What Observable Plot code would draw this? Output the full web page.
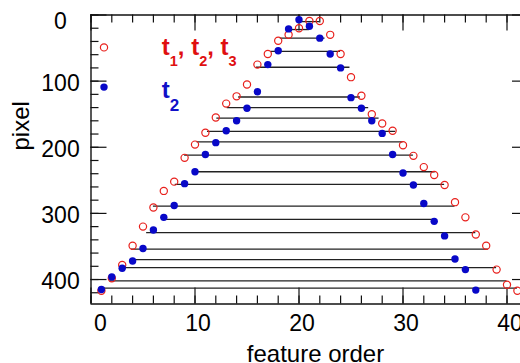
<!DOCTYPE html>
<html><head><meta charset="utf-8">
<script src="https://cdn.jsdelivr.net/npm/d3@7"></script>
<script src="https://cdn.jsdelivr.net/npm/@observablehq/plot@0.6"></script>
<style>html,body{margin:0;padding:0;background:#fff;overflow:hidden} svg{display:block}</style>
</head><body><div id="chart"></div>
<script>
// t1, t2, t3 (red open circles)
const redOrder = [1,2,3,4,5,6,7,8,9,10,11,12,13,14,15,16,17,18,19,20,21,22,23,24,25,26,27,28,29,30,31,32,33,34,35,36,37,38,39,40,41];
const redPixel = [417,398,378,349,320,291,266,252,216,196,178,155,134,123,105,75,59,39,30,20,9,9,30,59,94,122,150,164,175,197,213,230,242,257,283,306,332,349,385,408,417];
// t2 (blue filled dots)
const blueOrder = [1,2,3,4,5,6,7,8,9,10,11,12,13,14,15,16,17,18,19,20,21,22,23,24,25,26,27,28,29,30,31,32,33,34,35,36,37];
const bluePixel = [415,396,383,372,353,325,306,288,255,237,211,193,175,160,141,116,75,54,21,7,17,35,59,80,125,141,160,179,211,239,257,285,312,334,369,385,416];
// horizontal connecting segments
const linePixel = [10,22,35,55,79,124,140,156,176,192,212,237,256,289,309,329,354,370,382,402,413];
const lineFrom  = [20.3,19,18.2,17.3,15.9,14.2,13.1,12.1,11.2,10.2,9,10,8.1,6,7,5.35,3.9,4,3,1.8,1];
const lineTo    = [22,21,22.5,24,24.9,25.9,26.7,27.7,29.3,30,31,33.1,34,35,33,37,38.2,35.2,39,40,41];
// ticks
const xMajor = [0,10,20,30,40];
const xMinor = [0,2,4,6,8,10,12,14,16,18,20,22,24,26,28,30,32,34,36,38,40];
const yMajor = [0,100,200,300,400];
const yMinor = [0,20,40,60,80,100,120,140,160,180,200,220,240,260,280,300,320,340,360,380,400,420];
// legend
const legendLabels = ["t1, t2, t3", "t2"];
const legendKinds = ["all", "t2"];

const red = "#e8201c", blue = "#0808c8", redText = "#e01010", blueText = "#1010c8";
const W = 520, H = 363, mL = 90.5, mR = 0, mT = 14.5, mB = 59.5;
const plotW = W - mL - mR, plotH = H - mT - mB;

const reds = redOrder.map((x, i) => ({x, y: redPixel[i]}));
const blues = blueOrder.map((x, i) => ({x, y: bluePixel[i]}));
const segs = linePixel.map((y, i) => ({y, x1: lineFrom[i], x2: lineTo[i]}));
const legend = legendLabels.map((t, i) => ({t, kind: legendKinds[i], mx: 1.25, my: i === 0 ? 49 : 109, tx: 6.8, ty: i === 0 ? 61.2 : 125.2}));

const font = "'Liberation Sans', Arial, Helvetica, sans-serif";
const plot = Plot.plot({
  width: W, height: H, marginLeft: mL, marginRight: mR, marginTop: mT, marginBottom: mB,
  x: {domain: [0, plotW / 10.4], axis: null},
  y: {domain: [0, 437], reverse: true, axis: null},
  style: {fontFamily: font, fontSize: "23px", background: "#fff", color: "#000", overflow: "visible"},
  marks: [
    // frame: left, top, bottom
    Plot.ruleX([0], {x: d => d, stroke: "#111", strokeWidth: 1.4}),
    Plot.ruleY([0, 437], {y: d => d, stroke: "#111", strokeWidth: 1.4}),
    // inward ticks
    Plot.tickX(xMinor, {x: d => d, insetTop: plotH - 8, stroke: "#111", strokeWidth: 1.2}),
    Plot.tickX(xMajor, {x: d => d, insetTop: plotH - 16, stroke: "#111", strokeWidth: 1.2}),
    Plot.tickX(xMinor, {x: d => d, insetBottom: plotH - 8, stroke: "#111", strokeWidth: 1.2}),
    Plot.tickX(xMajor, {x: d => d, insetBottom: plotH - 16, stroke: "#111", strokeWidth: 1.2}),
    Plot.tickY(yMinor, {y: d => d, insetRight: plotW - 8, stroke: "#111", strokeWidth: 1.2}),
    Plot.tickY(yMajor, {y: d => d, insetRight: plotW - 16, stroke: "#111", strokeWidth: 1.2}),
    Plot.tickY(yMajor, {y: d => d, insetLeft: plotW - 8, stroke: "#111", strokeWidth: 1.2}),
    // tick labels
    Plot.text(xMajor.filter(d => d !== 0), {x: d => d, text: d => String(d), frameAnchor: "bottom", lineAnchor: "top", dy: 11, dx: 3, fontSize: 23, fill: "#000"}),
    Plot.text(xMajor.filter(d => d === 0), {x: d => d, text: d => String(d), frameAnchor: "bottom", lineAnchor: "top", dy: 11, dx: 9.5, fontSize: 23, fill: "#000"}),
    Plot.text(yMajor.filter(d => d !== 0), {y: d => d, text: d => String(d), frameAnchor: "left", textAnchor: "middle", dx: -30.5, dy: 2.5, fontSize: 23, fill: "#000"}),
    Plot.text(yMajor.filter(d => d === 0), {y: d => d, text: d => String(d), frameAnchor: "left", textAnchor: "middle", dx: -30.5, dy: 7, fontSize: 23, fill: "#000"}),
    // axis titles
    Plot.text(["feature order"], {text: d => d, frameAnchor: "bottom", lineAnchor: "bottom", dy: 57.5, dx: 9.75, fontSize: 24, fill: "#000"}),
    Plot.text(["pixel"], {text: d => d, frameAnchor: "left", rotate: -90, dx: -70, dy: -9, fontSize: 24, fill: "#000"}),
    // data
    Plot.ruleY(segs, {y: "y", x1: "x1", x2: "x2", stroke: "#222", strokeWidth: 1.3}),
    Plot.dot(reds, {x: "x", y: "y", r: 3.6, stroke: red, strokeWidth: 1.2, fill: "none"}),
    Plot.dot(blues, {x: "x", y: "y", r: 3.7, fill: blue, stroke: "none"}),
    // legend
    Plot.dot(legend.filter(d => d.kind === "all"), {x: "mx", y: "my", r: 3.6, stroke: red, strokeWidth: 1.2, fill: "none"}),
    Plot.dot(legend.filter(d => d.kind === "t2"), {x: "mx", y: "my", r: 3.7, fill: blue, stroke: "none"}),
    Plot.text(legend, {x: "tx", y: "ty", text: "t", textAnchor: "start", lineAnchor: "bottom", fontSize: 24, fontWeight: "bold", fill: d => d.kind === "all" ? redText : blueText})
  ]
});
document.getElementById("chart").appendChild(plot);

// render the digit after each "t" in the legend as a subscript
d3.select(plot).selectAll("text").each(function() {
  const el = d3.select(this);
  const s = el.text();
  const item = legend.find(d => d.t === s);
  if (!item) return;
  const sub = item.kind === "all" ? {size: 14.5, shift: 11} : {size: 17, shift: 12.7};
  el.text(null);
  let pending = 0;
  for (const part of s.match(/t\d|[^t]+/g)) {
    if (part[0] === "t") {
      el.append("tspan").attr("dy", pending || null).text("t");
      el.append("tspan").attr("font-size", sub.size).attr("dy", sub.shift).text(part.slice(1));
      pending = -sub.shift;
    } else {
      el.append("tspan").attr("dy", pending || null).text(part);
      pending = 0;
    }
  }
});
</script>
</body></html>
